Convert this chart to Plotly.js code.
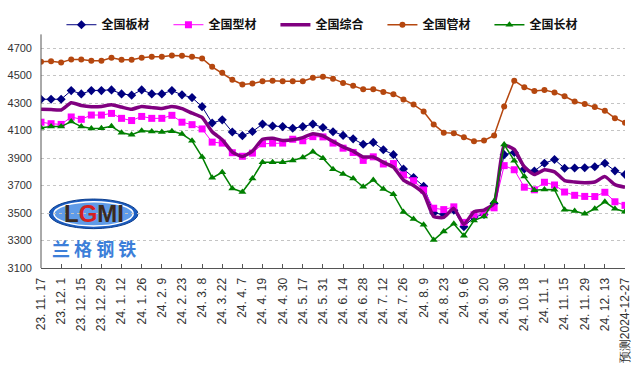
<!DOCTYPE html>
<html><head><meta charset="utf-8">
<script src="https://cdn.plot.ly/plotly-3.0.1.min.js"></script>
<style>html,body{margin:0;padding:0;background:#fff}#c{width:640px;height:381px}</style>
</head><body><div id="c"></div>
<script>
const tickLabels = ["23. 11. 17","23. 12. 1","23. 12. 15","23. 12. 29","24. 1. 12","24. 1. 26","24. 2. 9","24. 2. 23","24. 3. 8","24. 3. 22","24. 4. 7","24. 4. 19","24. 4. 30","24. 5. 17","24. 5. 31","24. 6. 14","24. 6. 28","24. 7. 12","24. 7. 26","24. 8. 9","24. 8. 23","24. 9. 6","24. 9. 20","24. 9. 30","24. 10. 18","24. 11. 1","24. 11. 15","24. 11. 29","24. 12. 13","预测2024-12-27"];
const yTicks = [3100,3300,3500,3700,3900,4100,4300,4500,4700];

const plate = [4328,4328,4328,4391,4367,4391,4391,4396,4367,4358,4396,4367,4367,4391,4360,4340,4274,4155,4178,4090,4063,4093,4147,4133,4129,4117,4129,4147,4122,4091,4065,4040,4000,4014,3960,3925,3820,3758,3695,3500,3490,3520,3400,3470,3490,3570,3925,3940,3820,3806,3862,3890,3826,3828,3830,3837,3862,3807,3780];
const section = [4161,4150,4145,4199,4182,4213,4213,4225,4189,4173,4203,4189,4189,4211,4161,4143,4112,4016,4009,3939,3913,3936,4004,4009,4009,4037,4026,4056,4054,4009,3972,3941,3883,3909,3857,3860,3777,3735,3668,3535,3525,3545,3432,3487,3499,3538,3845,3815,3688,3669,3724,3704,3653,3629,3621,3620,3651,3582,3556];
const overall = [4255,4253,4250,4302,4283,4274,4276,4288,4271,4255,4276,4267,4260,4276,4260,4227,4196,4091,4033,3944,3911,3951,4037,4044,4028,4033,4049,4077,4061,4021,3981,3951,3908,3908,3869,3834,3740,3700,3642,3475,3468,3534,3417,3510,3522,3569,3993,3963,3835,3780,3815,3800,3736,3726,3721,3726,3765,3707,3688];
const pipe = [4600,4604,4595,4618,4618,4609,4609,4630,4616,4616,4630,4637,4637,4646,4644,4637,4625,4564,4520,4470,4435,4442,4459,4463,4459,4459,4459,4485,4492,4478,4447,4426,4400,4400,4381,4365,4327,4289,4239,4145,4085,4080,4051,4022,4028,4064,4275,4463,4415,4388,4396,4378,4350,4312,4294,4272,4245,4190,4157];
const longp = [4121,4129,4129,4166,4129,4115,4117,4131,4084,4070,4098,4093,4089,4096,4075,4026,3908,3756,3796,3679,3653,3751,3869,3869,3869,3883,3904,3946,3899,3819,3784,3751,3691,3740,3674,3637,3508,3456,3414,3303,3366,3422,3335,3445,3475,3585,3998,3880,3765,3666,3671,3670,3524,3514,3494,3531,3582,3531,3510];

const names = ["全国板材","全国型材","全国综合","全国管材","全国长材"];
const weeks = plate.map((_, i) => i);
const tickVals = tickLabels.map((_, i) => i * 2);

const traces = [
  {y: plate, name: names[0], line:{color:'#000080', width:1}, marker:{symbol:'diamond', size:7, color:'#000080'}, mode:'lines+markers'},
  {y: section, name: names[1], line:{color:'#FF00FF', width:1}, marker:{symbol:'square', size:7, color:'#FF00FF'}, mode:'lines+markers'},
  {y: overall, name: names[2], line:{color:'#800080', width:3.5, shape:'spline', smoothing:0.5}, mode:'lines'},
  {y: pipe, name: names[3], line:{color:'#B5470F', width:1.5}, marker:{symbol:'circle', size:6, color:'#B5470F'}, mode:'lines+markers'},
  {y: longp, name: names[4], line:{color:'#008000', width:1.5}, marker:{symbol:'triangle-up', size:7, color:'#008000'}, mode:'lines+markers'}
].map(t => Object.assign({x: weeks, type:'scatter', hoverinfo:'skip'}, t));

const layout = {
  width: 640, height: 381,
  margin: {l: 41, r: 15, t: 10, b: 113},
  paper_bgcolor: '#fff', plot_bgcolor: '#fff',
  showlegend: true,
  legend: {orientation:'h', x:0.035, xanchor:'left', y:0.977, yanchor:'middle',
    font:{family:'"Noto Sans CJK SC", sans-serif', size:12, color:'#111', weight:'bold'},
    entrywidth:62, itemwidth:30, tracegroupgap:0, bgcolor:'rgba(0,0,0,0)'},
  xaxis: {range:[0, 58], tickvals: tickVals, ticktext: tickLabels, tickangle:-90,
    ticks:'inside', ticklen:4, tickcolor:'#555', showline:true, linecolor:'#555', linewidth:1,
    showgrid:false, zeroline:false, automargin:false, ticklabelstandoff:4,
    tickfont:{family:'"Liberation Sans", Arial, sans-serif', size:12, color:'#333'}},
  yaxis: {range:[3100, 4912], tickvals: yTicks, ticks:'', showline:false,
    showgrid:true, gridcolor:'#c4c4c4', griddash:'dot', gridwidth:1, zeroline:false, automargin:false,
    ticklabelstandoff:8,
    tickfont:{family:'"Liberation Sans", Arial, sans-serif', size:11, color:'#333'}},
  shapes: [
    {type:'line', xref:'paper', yref:'y', x0:0, x1:0, y0:3100, y1:4800, line:{color:'#555', width:1}},
    {type:'circle', xref:'paper', yref:'paper', x0:0.014, x1:0.166, y0:0.158, y1:0.277, fillcolor:'#1b5cc0', line:{color:'#0c3e8e', width:1}, layer:'below'},
    {type:'circle', xref:'paper', yref:'paper', x0:0.022, x1:0.158, y0:0.169, y1:0.266, fillcolor:'#5f9be8', line:{color:'#ffffff', width:1.5}, layer:'below'}
  ],
  annotations: [
    {xref:'paper', yref:'paper', x:0.09, y:0.218, showarrow:false, xanchor:'center', yanchor:'middle',
      text:'<b><span style="color:#3b2a20">L</span><span style="color:#d42020">G</span><span style="color:#3b2a20">MI</span></b>',
      font:{family:'"Liberation Sans", Arial, sans-serif', size:24}},
    {xref:'paper', yref:'paper', x:0.09, y:0.082, showarrow:false, xanchor:'center', yanchor:'middle',
      text:'<b>兰 格 钢 铁</b>', font:{family:'"Noto Sans CJK SC", sans-serif', size:18, color:'#3d7fd9'}}
  ]
};

Plotly.newPlot('c', traces, layout, {staticPlot:true, displayModeBar:false});
</script></body></html>
